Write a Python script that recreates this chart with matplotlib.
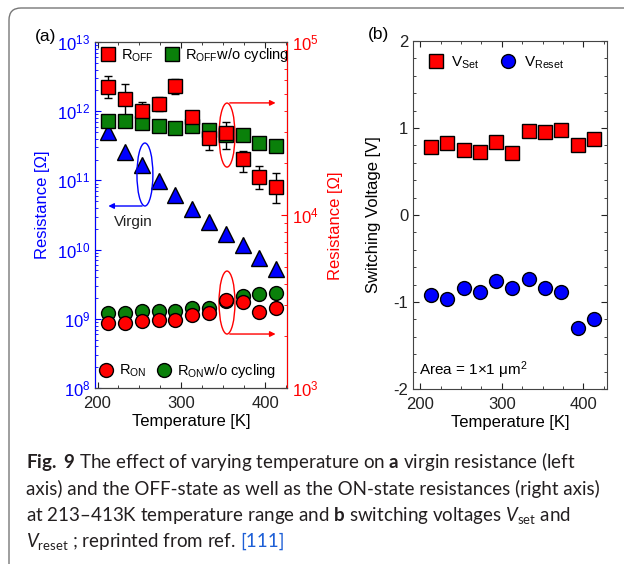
import numpy as np
import matplotlib
matplotlib.use("Agg")
import matplotlib.pyplot as plt
from matplotlib.patches import Ellipse, FancyBboxPatch
from matplotlib.lines import Line2D
from matplotlib.ticker import MultipleLocator, LogLocator, NullFormatter
from matplotlib.transforms import IdentityTransform

plt.rcParams['font.family'] = ['Liberation Sans', 'DejaVu Sans']
plt.rcParams['mathtext.fontset'] = 'custom'
plt.rcParams['mathtext.rm'] = 'Lato'
plt.rcParams['mathtext.it'] = 'Lato:italic'
plt.rcParams['mathtext.bf'] = 'Lato:bold'
plt.rcParams['mathtext.sf'] = 'Liberation Sans'
plt.rcParams['axes.unicode_minus'] = False

# temperatures [K]
temp = [213, 233, 253, 273, 293, 313, 333, 353, 373, 393, 413]

# panel (a) - left axis, virgin resistance [Ohm]
virgin = [5.0e11, 2.6e11, 1.65e11, 9.7e10, 6.1e10, 3.9e10, 2.5e10, 1.7e10, 1.15e10, 7.6e9, 5.3e9]

# panel (a) - right axis [Ohm]
roff = [5.5e4, 4.7e4, 4.0e4, 4.4e4, 5.6e4, 3.7e4, 2.8e4, 2.97e4, 2.1e4, 1.66e4, 1.45e4]
roff_hi = [6.36e4, 5.71e4, 4.5e4, 4.81e4, 6.1e4, 3.9e4, 3.36e4, 3.45e4, 2.34e4, 1.92e4, 1.75e4]
roff_lo = [4.74e4, 3.54e4, 3.64e4, 3.99e4, 5.0e4, 3.5e4, 2.38e4, 2.41e4, 1.77e4, 1.41e4, 1.17e4]
roff_nc = [3.5e4, 3.5e4, 3.4e4, 3.27e4, 3.2e4, 3.27e4, 3.1e4, 2.9e4, 2.9e4, 2.6e4, 2.5e4]
ron = [2.38e3, 2.38e3, 2.44e3, 2.47e3, 2.47e3, 2.64e3, 2.7e3, 3.24e3, 3.16e3, 2.74e3, 2.89e3]
ron_hi = [2.48e3, 2.48e3, 2.54e3, 2.57e3, 2.57e3, 2.75e3, 2.8e3, 3.35e3, 3.27e3, 2.84e3, 3.0e3]
ron_lo = [2.25e3, 2.25e3, 2.32e3, 2.35e3, 2.35e3, 2.52e3, 2.58e3, 3.1e3, 3.04e3, 2.62e3, 2.76e3]
ron_nc = [2.7e3, 2.7e3, 2.78e3, 2.78e3, 2.79e3, 2.89e3, 2.89e3, 3.2e3, 3.39e3, 3.48e3, 3.55e3]

# panel (b) switching voltages [V]
vset = [0.78, 0.83, 0.75, 0.72, 0.84, 0.71, 0.96, 0.95, 0.98, 0.81, 0.87]
vreset = [-0.92, -0.97, -0.84, -0.88, -0.76, -0.84, -0.74, -0.84, -0.88, -1.30, -1.20]

RED = '#ff0000'
GREEN = '#0a800a'
BLUE = '#0000ff'
fs = 12

fig = plt.figure(figsize=(6.24, 5.64), dpi=100)

# frame of the journal figure box
frame = FancyBboxPatch((9, -50), 800, 564 - 8 + 50, boxstyle='round,pad=0,rounding_size=12',
                       transform=IdentityTransform(), fill=False, ec='#777777', lw=1.0)
fig.add_artist(frame)

# ---------------- panel (a) ----------------
ax = fig.add_axes([95 / 624, 176 / 564, 192 / 624, 346 / 564])
ax2 = ax.twinx()

ax.set_yscale('log')
ax.set_ylim(1e8, 1e13)
ax.set_xlim(197, 426)
ax2.set_yscale('log')
ax2.set_ylim(1e3, 1e5)

ax.plot(temp, virgin, '^', ms=11.5, mfc=BLUE, mec='black', mew=1, zorder=3)

err_off = [np.array(roff) - np.array(roff_lo), np.array(roff_hi) - np.array(roff)]
ax2.errorbar(temp, roff, yerr=err_off, fmt='s', ms=9.5, mfc=RED, mec='black', mew=1,
             ecolor='black', elinewidth=1, capsize=3, capthick=1)
ax2.plot(temp, roff_nc, 's', ms=9.5, mfc=GREEN, mec='black', mew=1)
err_on = [np.array(ron) - np.array(ron_lo), np.array(ron_hi) - np.array(ron)]
ax2.errorbar(temp, ron, yerr=err_on, fmt='o', ms=10, mfc=RED, mec='black', mew=1,
             ecolor='black', elinewidth=1, capsize=2, capthick=1)
ax2.plot(temp, ron_nc, 'o', ms=10, mfc=GREEN, mec='black', mew=1)

ax.xaxis.set_major_locator(MultipleLocator(100))
ax.xaxis.set_minor_locator(MultipleLocator(25))
ax.yaxis.set_major_locator(LogLocator(base=10, numticks=10))
ax.yaxis.set_minor_locator(LogLocator(base=10, subs=np.arange(2, 10), numticks=20))
ax.yaxis.set_minor_formatter(NullFormatter())
ax2.yaxis.set_minor_locator(LogLocator(base=10, subs=np.arange(2, 10), numticks=20))
ax2.yaxis.set_minor_formatter(NullFormatter())

ax.tick_params(axis='x', which='both', direction='in', top=True, labelsize=fs, colors='#222222', pad=6)
ax.tick_params(axis='x', which='major', length=4)
ax.tick_params(axis='x', which='minor', length=2)
ax.tick_params(axis='y', which='both', direction='in', colors=BLUE, labelsize=fs)
ax.tick_params(axis='y', which='major', length=4)
ax.tick_params(axis='y', which='minor', length=2)
ax2.tick_params(axis='y', which='both', direction='in', colors=RED, labelsize=fs)
ax2.tick_params(axis='y', which='major', length=4)
ax2.tick_params(axis='y', which='minor', length=2)

ax2.spines['left'].set_color(BLUE)
ax2.spines['right'].set_color(RED)
ax2.spines['top'].set_color('#444444')
ax2.spines['bottom'].set_color('#444444')

ax.set_xlabel('Temperature [K]', fontsize=fs, labelpad=2)
ax.set_ylabel('Resistance [Ω]', fontsize=fs, color=BLUE)
ax.yaxis.set_label_coords(-0.235, 0.53)
ax2.set_ylabel('Resistance [Ω]', fontsize=fs, color=RED)
ax2.yaxis.set_label_coords(1.215, 0.47)

# legends
h1 = [Line2D([], [], ls='none', marker='s', ms=9.5, mfc=RED, mec='black'),
      Line2D([], [], ls='none', marker='s', ms=9.5, mfc=GREEN, mec='black')]
leg1 = ax2.legend(h1, [r'$\mathsf{R_{OFF}}$', r'$\mathsf{R_{OFF}}$w/o cycling'], ncol=2,
                  loc='upper left', bbox_to_anchor=(-0.045, 1.025), frameon=False, fontsize=10.5,
                  handletextpad=0.3, columnspacing=0.6, handlelength=1.2)
ax2.add_artist(leg1)
h2 = [Line2D([], [], ls='none', marker='o', ms=10, mfc=RED, mec='black'),
      Line2D([], [], ls='none', marker='o', ms=10, mfc=GREEN, mec='black')]
ax2.legend(h2, [r'$\mathsf{R_{ON}}$', r'$\mathsf{R_{ON}}$w/o cycling'], ncol=2,
           loc='lower left', bbox_to_anchor=(-0.055, -0.015), frameon=False, fontsize=10.5,
           handletextpad=0.3, columnspacing=0.6, handlelength=1.2)

# ellipses and arrows
ax2.add_patch(Ellipse((0.26, 0.617), 0.083, 0.182, transform=ax2.transAxes,
                      fill=False, ec=BLUE, lw=1))
ax2.annotate('', xy=(0.055, 0.526), xytext=(0.26, 0.526), xycoords='axes fraction',
             arrowprops=dict(arrowstyle='-|>', color=BLUE, lw=1, mutation_scale=8))
ax2.text(0.198, 0.48, 'Virgin', transform=ax2.transAxes, ha='center', va='center',
         fontsize=11, color='#222222')
ax2.add_patch(Ellipse((0.6875, 0.731), 0.083, 0.185, transform=ax2.transAxes,
                      fill=False, ec=RED, lw=1))
ax2.annotate('', xy=(0.955, 0.824), xytext=(0.6875, 0.824), xycoords='axes fraction',
             arrowprops=dict(arrowstyle='-|>', color=RED, lw=1, mutation_scale=8))
ax2.add_patch(Ellipse((0.6875, 0.247), 0.083, 0.182, transform=ax2.transAxes,
                      fill=False, ec=RED, lw=1))
ax2.annotate('', xy=(0.955, 0.156), xytext=(0.6875, 0.156), xycoords='axes fraction',
             arrowprops=dict(arrowstyle='-|>', color=RED, lw=1, mutation_scale=8))

# ---------------- panel (b) ----------------
bx = fig.add_axes([413 / 624, 175 / 564, 194 / 624, 348 / 564])
bx.plot(temp, vset, 's', ms=9.5, mfc=RED, mec='black', mew=1)
bx.plot(temp, vreset, 'o', ms=10, mfc=BLUE, mec='black', mew=1)
bx.set_xlim(191, 429)
bx.set_ylim(-2, 2)
bx.xaxis.set_major_locator(MultipleLocator(100))
bx.xaxis.set_minor_locator(MultipleLocator(25))
bx.yaxis.set_major_locator(MultipleLocator(1))
bx.yaxis.set_minor_locator(MultipleLocator(0.2))
bx.tick_params(which='both', direction='in', top=True, right=True, labelsize=fs, colors='#222222')
bx.tick_params(axis='x', pad=6)
bx.tick_params(which='major', length=4)
bx.tick_params(which='minor', length=2)
for s in bx.spines.values():
    s.set_color('#444444')
bx.set_xlabel('Temperature [K]', fontsize=fs, labelpad=2)
bx.set_ylabel('Switching Voltage [V]', fontsize=fs)
bx.yaxis.set_label_coords(-0.165, 0.5)

h3 = [Line2D([], [], ls='none', marker='s', ms=9.5, mfc=RED, mec='black'),
      Line2D([], [], ls='none', marker='o', ms=10, mfc=BLUE, mec='black')]
bx.legend(h3, [r'$\mathsf{V_{Set}}$', r'$\mathsf{V_{Reset}}$'], ncol=2,
          loc='upper left', bbox_to_anchor=(0.0, 1.0), frameon=False, fontsize=11,
          handletextpad=0.4, columnspacing=1.3, handlelength=1.2)
bx.text(0.03, 0.055, r'Area = 1×1 μm$\mathsf{^2}$', transform=bx.transAxes, fontsize=11, va='center')

fig.text(35 / 624, 1 - 37 / 564, '(a)', fontsize=12.5, va='center')
fig.text(368 / 624, 1 - 35 / 564, '(b)', fontsize=12.5, va='center')

# ---------------- caption ----------------
cap = [r'$\mathbf{Fig.}$ $\mathbf{9}$ The effect of varying temperature on $\mathbf{a}$ virgin resistance (left',
       'axis) and the OFF-state as well as the ON-state resistances (right axis)',
       r'at 213–413K temperature range and $\mathbf{b}$ switching voltages $\mathit{V}_{\mathrm{set}}$ and',
       r'$\mathit{V}_{\mathrm{reset}}$ ; reprinted from ref.']
baselines = [468, 495, 521, 547]
cfs = 13.5
last = None
for line, yb in zip(cap, baselines):
    last = fig.text(26 / 624, 1 - yb / 564, line, fontsize=cfs, family='Lato',
                    va='baseline', color='#231f20')
renderer = fig.canvas.get_renderer()
x1 = last.get_window_extent(renderer).x1 + 5
fig.text(x1 / 624, 1 - baselines[-1] / 564, '[111]', fontsize=cfs, family='Lato',
         va='baseline', color='#1d5fd6')

fig.savefig('out.png', dpi=100)
